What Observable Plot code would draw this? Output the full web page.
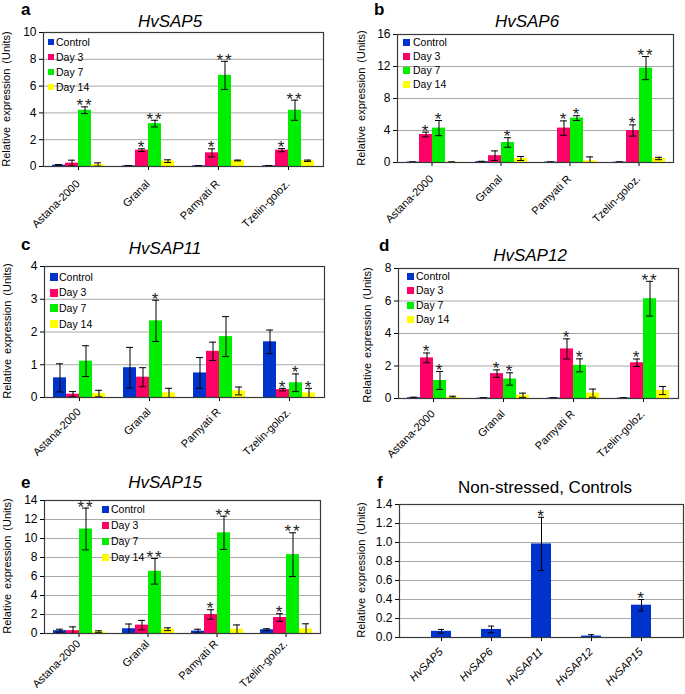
<!DOCTYPE html>
<html><head><meta charset="utf-8">
<script src="https://cdn.jsdelivr.net/npm/d3@7"></script>
<script src="https://cdn.jsdelivr.net/npm/@observablehq/plot@0.6"></script>
<style>
body{margin:0;background:#fff;}
#fig{position:relative;width:685px;height:694px;font-family:"Liberation Sans",Arial,sans-serif;overflow:hidden;color:#000}
.panel{position:absolute}
.panel svg{overflow:visible}
.lbl{position:absolute;white-space:nowrap;line-height:1}
.title{font-size:17px;transform:translateX(-50%)}
.it{font-style:italic}
.letter{font-size:17px;font-weight:bold}
.ylab{font-size:11px;word-spacing:2px;transform:translate(-50%,-50%) rotate(-90deg)}
.leg{position:absolute;font-size:10.5px;line-height:1}
.leg .row{position:absolute;white-space:nowrap;display:flex;align-items:center}
.leg .sw{display:inline-block}
g[aria-label="text"].stars text{letter-spacing:2px}
</style></head><body><div id="fig"></div>
<script>
const cultivars = ["Astana-2000", "Granal", "Pamyati R", "Tzelin-goloz."];
const series = ["Control", "Day 3", "Day 7", "Day 14"];
const colors = ["#0033cc", "#ff0066", "#00ee00", "#ffff00"];
const yLabel = "Relative expression (Units)";

// rows = cultivars, columns = series
const sap5Mean = [[0.1, 0.25, 4.2, 0.15], [0.05, 1.22, 3.2, 0.4], [0.05, 1.02, 6.8, 0.45], [0.05, 1.22, 4.2, 0.43]];
const sap5Err  = [[0.05, 0.22, 0.25, 0.12], [0.02, 0.1, 0.25, 0.1], [0.02, 0.3, 1.05, 0.03], [0.02, 0.12, 0.75, 0.05]];
const sap5Sig  = [["", "", "**", ""], ["", "*", "**", ""], ["", "*", "**", ""], ["", "*", "**", ""]];

const sap6Mean = [[0.05, 3.5, 4.3, 0.05], [0.1, 0.85, 2.5, 0.5], [0.05, 4.3, 5.55, 0.2], [0.05, 4.0, 11.8, 0.5]];
const sap6Err  = [[0.03, 0.3, 0.95, 0.03], [0.05, 0.6, 0.6, 0.25], [0.03, 0.9, 0.3, 0.5], [0.03, 0.7, 1.45, 0.15]];
const sap6Sig  = [["", "*", "*", ""], ["", "", "*", ""], ["", "*", "*", ""], ["", "*", "**", ""]];

const sap11Mean = [[0.6, 0.1, 1.11, 0.12], [0.91, 0.62, 2.34, 0.14], [0.75, 1.41, 1.86, 0.2], [1.7, 0.24, 0.45, 0.14]];
const sap11Err  = [[0.43, 0.08, 0.47, 0.1], [0.62, 0.29, 0.63, 0.14], [0.47, 0.28, 0.61, 0.12], [0.36, 0.04, 0.27, 0.14]];
const sap11Sig  = [["", "", "", ""], ["", "", "*", ""], ["", "", "", ""], ["", "*", "*", "*"]];

const sap12Mean = [[0.05, 2.5, 1.11, 0.08], [0.03, 1.53, 1.2, 0.2], [0.03, 3.05, 2.04, 0.33], [0.03, 2.2, 6.14, 0.49]];
const sap12Err  = [[0.03, 0.3, 0.55, 0.06], [0.02, 0.23, 0.38, 0.13], [0.02, 0.62, 0.4, 0.25], [0.02, 0.23, 1.07, 0.25]];
const sap12Sig  = [["", "*", "*", ""], ["", "*", "*", ""], ["", "*", "*", ""], ["", "*", "**", ""]];

const sap15Mean = [[0.3, 0.3, 11.0, 0.18], [0.5, 0.88, 6.55, 0.45], [0.25, 2.0, 10.6, 0.45], [0.4, 1.68, 8.3, 0.47]];
const sap15Err  = [[0.15, 0.4, 2.2, 0.1], [0.5, 0.5, 1.35, 0.15], [0.2, 0.5, 1.75, 0.45], [0.1, 0.4, 2.3, 0.55]];
const sap15Sig  = [["", "", "**", ""], ["", "", "**", ""], ["", "*", "**", ""], ["", "*", "**", ""]];

const genes = ["HvSAP5", "HvSAP6", "HvSAP11", "HvSAP12", "HvSAP15"];
const ctrlMean = [0.065, 0.085, 0.985, 0.015, 0.34];
const ctrlErr  = [0.02, 0.035, 0.28, 0.015, 0.06];
const ctrlSig  = ["", "", "*", "", "*"];

const FONT = '"Liberation Sans", Arial, sans-serif';
const fig = document.getElementById("fig");

function tidy(mean, err, sig) {
  const rows = [];
  cultivars.forEach((c, i) => series.forEach((s, j) => {
    rows.push({cultivar: c, series: s, value: mean[i][j],
      lo: Math.max(0, mean[i][j] - err[i][j]), hi: mean[i][j] + err[i][j], sig: sig[i][j]});
  }));
  return rows;
}

function addLabel(text, cls, left, top) {
  const d = document.createElement("div");
  d.className = "lbl " + cls;
  d.textContent = text;
  d.style.left = left + "px";
  d.style.top = top + "px";
  fig.appendChild(d);
}

function addLegend(x, textX, y0, step, sw) {
  const leg = document.createElement("div");
  leg.className = "leg";
  leg.style.left = x + "px";
  leg.style.top = "0px";
  series.forEach((s, i) => {
    const r = document.createElement("div");
    r.className = "row";
    r.style.top = (y0 + i * step - 6) + "px";
    r.style.height = "12px";
    const b = document.createElement("span");
    b.className = "sw";
    b.style.width = sw + "px"; b.style.height = sw + "px";
    b.style.background = colors[i];
    b.style.marginRight = (textX - x - sw) + "px";
    r.appendChild(b);
    r.appendChild(document.createTextNode(s));
    leg.appendChild(r);
  });
  fig.appendChild(leg);
}

function mount(chart, x, y) {
  const holder = document.createElement("div");
  holder.className = "panel";
  holder.style.left = x + "px"; holder.style.top = y + "px";
  holder.appendChild(chart);
  fig.appendChild(holder);
  chart.querySelectorAll('g[aria-label="text"]').forEach(g => { if (g.textContent.includes("*")) g.classList.add("stars"); });
}

function groupPanel(p) {
  const data = tidy(p.mean, p.err, p.sig);
  const ticks = d3.range(0, p.max + p.step / 2, p.step);
  const chart = Plot.plot({
    width: p.w, height: p.h,
    marginLeft: p.ml, marginTop: p.mt, marginRight: p.mr, marginBottom: p.mb,
    style: {fontFamily: FONT, fontSize: "12px", background: "transparent", color: "#000"},
    fx: {domain: cultivars, padding: 0},
    x: {domain: series, paddingInner: 0, paddingOuter: 0.63, axis: null},
    y: {domain: [0, p.max]},
    color: {domain: series, range: colors},
    marks: [
      Plot.gridY(ticks.slice(1, -1), {stroke: "#a8a8a8", strokeOpacity: 1}),
      Plot.axisY(ticks, {tickSize: 4, tickPadding: 3, label: null, tickFormat: d3.format("d"), fontSize: 12}),
      Plot.axisFx({anchor: "bottom", tickSize: 4, tickFormat: () => "", label: null}),
      Plot.text(cultivars, {fx: d => d, text: d => d, frameAnchor: "bottom", rotate: -45, textAnchor: "end", dy: p.ldy, dx: 2, fontSize: 11}),
      Plot.barY(data, {fx: "cultivar", x: "series", y: "value", fill: "series"}),
      Plot.ruleX(data, {fx: "cultivar", x: "series", y1: "lo", y2: "hi", stroke: "#000", strokeWidth: 1}),
      Plot.tickY(data, {fx: "cultivar", x: "series", y: "hi", stroke: "#000", insetLeft: 3, insetRight: 3}),
      Plot.tickY(data, {fx: "cultivar", x: "series", y: "lo", stroke: "#000", insetLeft: 3, insetRight: 3}),
      Plot.text(data.filter(d => d.sig), {fx: "cultivar", x: "series", y: "hi", text: "sig", fontSize: 17, dy: -1, fill: "#222"}),
      Plot.ruleY([0], {stroke: "#000"}),
      Plot.frame({facet: "super", stroke: "#3a3a3a", strokeWidth: 1.2})
    ]
  });
  mount(chart, p.x, p.y);
}

groupPanel({x: 0, y: 0, w: 340, h: 225, ml: 43, mt: 32, mr: 17, mb: 59, max: 10, step: 2, ldy: 18, mean: sap5Mean, err: sap5Err, sig: sap5Sig});
groupPanel({x: 340, y: 0, w: 345, h: 225, ml: 57, mt: 34, mr: 12, mb: 63, max: 16, step: 4, ldy: 17, mean: sap6Mean, err: sap6Err, sig: sap6Sig});
groupPanel({x: 0, y: 225, w: 340, h: 230, ml: 43, mt: 41, mr: 16, mb: 58, max: 4, step: 1, ldy: 15, mean: sap11Mean, err: sap11Err, sig: sap11Sig});
groupPanel({x: 340, y: 225, w: 345, h: 230, ml: 58, mt: 43, mr: 7, mb: 57, max: 8, step: 2, ldy: 16, mean: sap12Mean, err: sap12Err, sig: sap12Sig});
groupPanel({x: 0, y: 455, w: 340, h: 239, ml: 42, mt: 45, mr: 19, mb: 61, max: 14, step: 2, ldy: 11, mean: sap15Mean, err: sap15Err, sig: sap15Sig});

// panel f
{
  const data = genes.map((g, i) => ({gene: g, value: ctrlMean[i], lo: Math.max(0, ctrlMean[i] - ctrlErr[i]), hi: ctrlMean[i] + ctrlErr[i], sig: ctrlSig[i]}));
  const ticks = d3.range(0, 1.41, 0.2);
  const chart = Plot.plot({
    width: 345, height: 239, marginLeft: 59, marginTop: 49, marginRight: 2, marginBottom: 57,
    style: {fontFamily: FONT, fontSize: "12px", background: "transparent", color: "#000"},
    x: {domain: genes, padding: 0.6},
    y: {domain: [0, 1.4]},
    marks: [
      Plot.gridY(ticks.slice(1, -1), {stroke: "#a8a8a8", strokeOpacity: 1}),
      Plot.axisY(ticks, {tickSize: 4, tickPadding: 3, label: null, tickFormat: d3.format(".1f"), fontSize: 12}),
      Plot.axisX({anchor: "bottom", tickSize: 4, tickFormat: () => "", label: null}),
      Plot.text(genes, {x: d => d, text: d => d, frameAnchor: "bottom", rotate: -45, textAnchor: "end", dy: 15, dx: 2, fontSize: 11, fontStyle: "italic"}),
      Plot.barY(data, {x: "gene", y: "value", fill: "#0033cc"}),
      Plot.ruleX(data, {x: "gene", y1: "lo", y2: "hi", stroke: "#000"}),
      Plot.tickY(data, {x: "gene", y: "hi", stroke: "#000", insetLeft: 7, insetRight: 7}),
      Plot.tickY(data, {x: "gene", y: "lo", stroke: "#000", insetLeft: 7, insetRight: 7}),
      Plot.text(data.filter(d => d.sig), {x: "gene", y: "hi", text: "sig", fontSize: 17, dy: -1, fill: "#222"}),
      Plot.ruleY([0], {stroke: "#000"}),
      Plot.frame({stroke: "#3a3a3a", strokeWidth: 1.2})
    ]
  });
  mount(chart, 340, 455);
}

// titles (baseline - 14.4)
addLabel("HvSAP5", "title it", 170, 27 - 14.4);
addLabel("HvSAP6", "title it", 527, 27 - 14.4);
addLabel("HvSAP11", "title it", 165, 254 - 14.4);
addLabel("HvSAP12", "title it", 530, 261 - 14.4);
addLabel("HvSAP15", "title it", 165, 488 - 14.4);
addLabel("Non-stressed, Controls", "title", 545, 493 - 14.4);
// panel letters
addLabel("a", "letter", 21, 15 - 14.4);
addLabel("b", "letter", 374, 15 - 14.4);
addLabel("c", "letter", 21, 250 - 14.4);
addLabel("d", "letter", 379, 251 - 14.4);
addLabel("e", "letter", 21, 488 - 14.4);
addLabel("f", "letter", 377, 488 - 14.4);
// y labels
[[6, 99], [361, 98], [7, 331], [367, 335], [7, 566], [361, 570]].forEach(([x, y]) => addLabel(yLabel, "ylab", x, y));
// legends
addLegend(48, 56, 42, 15, 6);
addLegend(403, 413, 42, 14, 7);
addLegend(50, 59, 277, 15.6, 8);
addLegend(407, 416, 276, 14.5, 7);
addLegend(102, 111, 509, 16, 7);
</script></body></html>
